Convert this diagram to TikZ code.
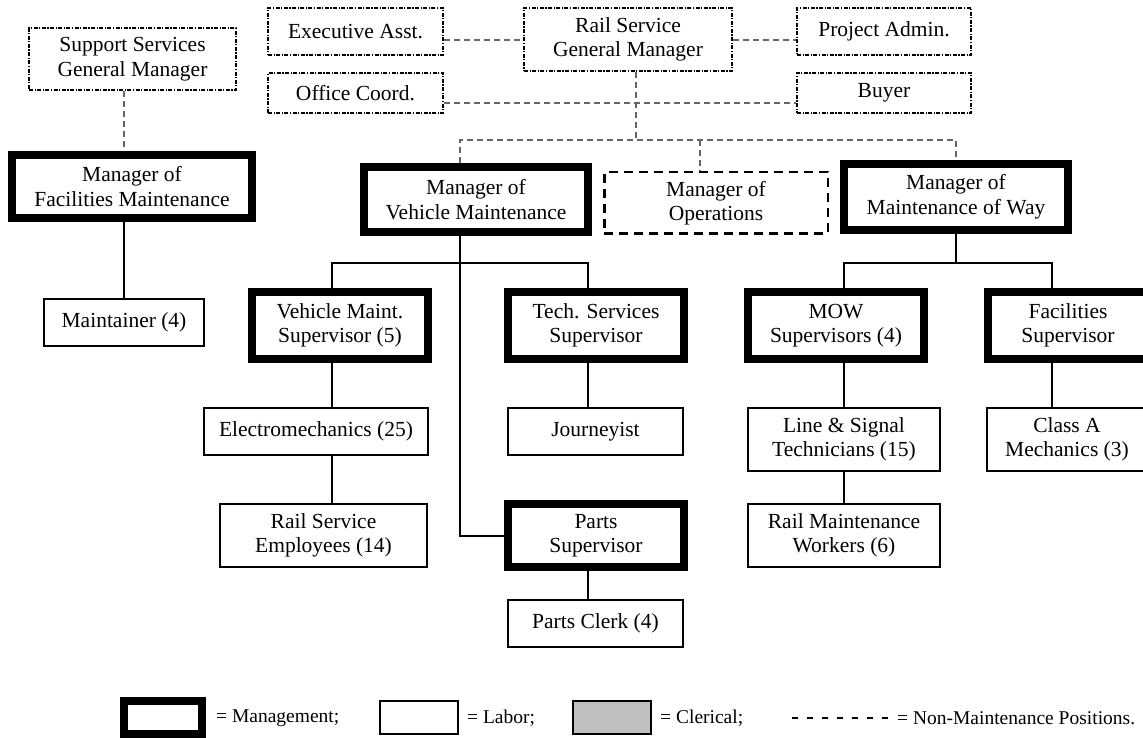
\documentclass[tikz,border=0pt]{standalone}
\usepackage{fontspec}
\setmainfont{Liberation Serif}
\begin{document}
\begin{tikzpicture}[x=1pt,y=-1pt,
  every node/.style={align=center, font=\fontsize{21.5}{24.5}\selectfont, inner sep=0pt},
  mgmt/.style={draw, line width=8pt, rectangle},
  labor/.style={draw, line width=2pt, rectangle},
  nonm/.style={draw, line width=2pt, rectangle, dash pattern=on 4pt off 1.5pt on 1.2pt off 1.5pt},
  opsbox/.style={draw, line width=2.5pt, rectangle, dash pattern=on 9pt off 6pt},
  conn/.style={line width=2pt},
  dconn/.style={line width=1.4pt, black!60, dash pattern=on 6pt off 4pt},
  legtext/.style={font=\fontsize{19.5}{22}\selectfont, anchor=west}
]
\useasboundingbox (0,0) rectangle (1143,738);

% top non-maintenance boxes
\node[nonm, minimum width=207, minimum height=62] (ssgm) at (132.5,59) {Support Services\\General Manager};
\node[nonm, minimum width=175, minimum height=47] (exec) at (355.5,31.5) {Executive Asst.};
\node[nonm, minimum width=208, minimum height=63] (rsgm) at (628,39.5) {Rail Service\\General Manager};
\node[nonm, minimum width=174, minimum height=47] (proj) at (884,31.5) {Project Admin.};
\node[nonm, minimum width=175, minimum height=40] (office) at (355.5,93) {Office Coord.};
\node[nonm, minimum width=174, minimum height=40] (buyer) at (884,93) {Buyer};

% managers
\node[mgmt, minimum width=240, minimum height=63] (mfm) at (132,186.5) {Manager of\\Facilities Maintenance};
\node[mgmt, minimum width=224, minimum height=65] (mvm) at (476,199.5) {Manager of\\Vehicle Maintenance};
\node[opsbox, minimum width=223.5, minimum height=61.5] (ops) at (716,203) {Manager of\\Operations};
\node[mgmt, minimum width=224, minimum height=66] (momw) at (956,197) {Manager of\\Maintenance of Way};

% supervisors
\node[labor, minimum width=160, minimum height=47] (maint) at (124,322.5) {Maintainer (4)};
\node[mgmt, minimum width=176, minimum height=67] (vms) at (340,325.5) {Vehicle Maint.\\Supervisor (5)};
\node[mgmt, minimum width=176, minimum height=67] (tss) at (596,325.5) {Tech. Services\\Supervisor};
\node[mgmt, minimum width=176, minimum height=67] (mows) at (836,325.5) {MOW\\Supervisors (4)};
\node[mgmt, minimum width=184, minimum height=67] (facs) at (1080,325.5) {Facilities\hspace*{24pt}\\Supervisor\hspace*{24pt}};

% labor
\node[labor, minimum width=224, minimum height=47] (electro) at (316,431.5) {Electromechanics (25)};
\node[labor, minimum width=175, minimum height=47] (jour) at (595.5,431.5) {Journeyist};
\node[labor, minimum width=192, minimum height=63] (lst) at (844,439.5) {Line \& Signal\\Technicians (15)};
\node[labor, minimum width=182, minimum height=63] (classa) at (1078,439.5) {Class A\hspace*{22pt}\\Mechanics (3)\hspace*{22pt}};
\node[labor, minimum width=207, minimum height=63] (rse) at (323.5,535.5) {Rail Service\\Employees (14)};
\node[mgmt, minimum width=176, minimum height=63] (ps) at (596,535.5) {Parts\\Supervisor};
\node[labor, minimum width=192, minimum height=63] (rmw) at (844,535.5) {Rail Maintenance\\Workers (6)};
\node[labor, minimum width=175, minimum height=47] (pc) at (595.5,623.5) {Parts Clerk (4)};

% helper coordinates
\coordinate (ya) at (0,40);
\coordinate (yb) at (0,103);
\coordinate (jtop) at (636,140);
\coordinate (jl) at (460,140);
\coordinate (jo) at (700,140);
\coordinate (jr) at (956,140);
\coordinate (xs) at (124,0);
\coordinate (trunk) at (460,263);
\coordinate (b1) at (332,263);
\coordinate (b2) at (588,263);
\coordinate (b3) at (844,263);
\coordinate (b4) at (1052,263);

% dashed connectors
\draw[dconn] (ssgm.south -| xs) -- (mfm.north -| xs);
\draw[dconn] (exec.east |- ya) -- (rsgm.west |- ya);
\draw[dconn] (rsgm.east |- ya) -- (proj.west |- ya);
\draw[dconn] (office.east |- yb) -- (buyer.west |- yb);
\draw[dconn] (rsgm.south -| jtop) -- (jtop);
\draw[dconn] (mvm.north -| jl) -- (jl) -- (jr) -- (momw.north);
\draw[dconn] (jo) -- (ops.north -| jo);

% solid connectors
\draw[conn] (mfm.south -| maint) -- (maint.north);
\draw[conn] (mvm.south -| trunk) -- (trunk |- ps.west) -- (ps.west);
\draw[conn] (vms.north -| b1) -- (b1) -- (b2) -- (tss.north -| b2);
\draw[conn] (vms.south -| b1) -- (electro.north -| b1);
\draw[conn] (electro.south -| b1) -- (rse.north -| b1);
\draw[conn] (tss.south -| b2) -- (jour.north -| b2);
\draw[conn] (ps.south -| b2) -- (pc.north -| b2);
\draw[conn] (momw.south) -- (momw.south |- b3);
\draw[conn] (mows.north -| b3) -- (b3) -- (b4) -- (facs.north -| b4);
\draw[conn] (mows.south -| b3) -- (lst.north -| b3);
\draw[conn] (lst.south -| b3) -- (rmw.north -| b3);
\draw[conn] (facs.south -| b4) -- (classa.north -| b4);

% legend
\node[mgmt, minimum width=78, minimum height=33] (lm) at (163,717.5) {};
\node[legtext] (lmt) at (216,718) {= Management;};
\node[labor, minimum width=78, minimum height=33] (ll) at (419,717.5) {};
\node[legtext] (llt) at (467,718) {= Labor;};
\node[labor, fill=black!25, minimum width=78, minimum height=33] (lc) at (612,717.5) {};
\node[legtext] (lct) at (660,718) {= Clerical;};
\coordinate (d1) at (792,718);
\coordinate (d2) at (888,718);
\draw[line width=1.3pt, dash pattern=on 6pt off 9pt] (d1) -- (d2);
\node[legtext] (lnt) at (897,718) {= Non-Maintenance Positions.};
\end{tikzpicture}
\end{document}
